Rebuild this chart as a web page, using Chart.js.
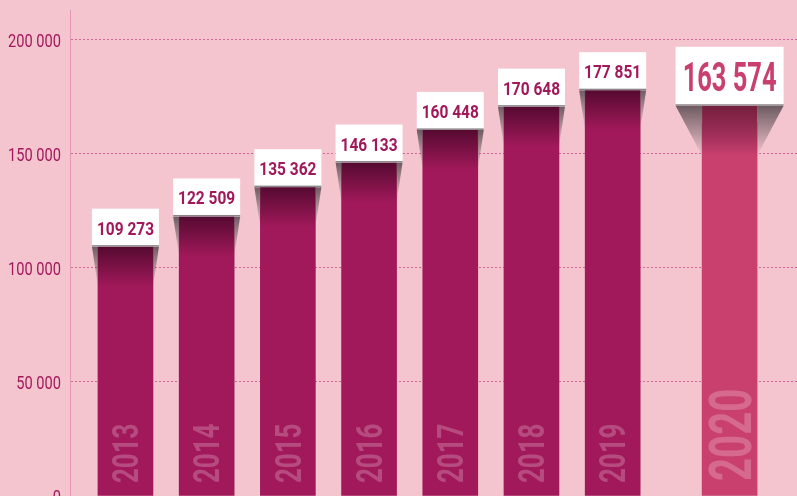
<!DOCTYPE html>
<html>
<head>
<meta charset="utf-8">
<script src="https://cdn.jsdelivr.net/npm/chart.js@4"></script>
<style>
  html, body { margin: 0; padding: 0; background: #f5c5cf; }
  #wrap { width: 797px; height: 496px; }
</style>
</head>
<body>
<div id="wrap"><canvas id="chart" width="797" height="496"></canvas></div>
<script>
// Données
const years = ['2013', '2014', '2015', '2016', '2017', '2018', '2019', '2020'];
const values = [109273, 122509, 135362, 146133, 160448, 170648, 177851, 163574];
const slots = [0, 1, 2, 3, 4, 5, 6, 7.44];
const yTicks = [0, 50000, 100000, 150000, 200000];

const FONT = 'Roboto, "DejaVu Sans", sans-serif';
const BAR = '#a1195a';
const BAR_LAST = '#c9406f';

function fmt(v) {
    return String(v).replace(/\B(?=(\d{3})+(?!\d))/g, ' ');
}

// texte condensé (pas de police étroite installée)
function condensedText(ctx, text, x, y, font, sx, align) {
    ctx.save();
    ctx.translate(x, y);
    ctx.scale(sx, 1);
    ctx.font = font;
    ctx.textAlign = align;
    ctx.textBaseline = 'alphabetic';
    ctx.fillText(text, 0, 0);
    ctx.restore();
}

// Libellés de l'axe Y dessinés en condensé
const yLabelsPlugin = {
    id: 'yLabels',
    afterDraw(chart) {
        const ctx = chart.ctx;
        const scale = chart.scales.y;
        ctx.save();
        ctx.fillStyle = BAR;
        yTicks.forEach(v => {
            const py = scale.getPixelForValue(v);
            condensedText(ctx, fmt(v), scale.right - 9, py + 7, '19px ' + FONT, 0.77, 'right');
        });
        ctx.restore();
    }
};

// Étiquettes, ombres et années dessinées au-dessus des barres
const decorPlugin = {
    id: 'decor',
    afterDatasetsDraw(chart) {
        const ctx = chart.ctx;
        const bars = chart.getDatasetMeta(0).data;
        bars.forEach((bar, i) => {
            const last = i === years.length - 1;
            const w = bar.width;
            const left = bar.x - w / 2;
            const right = bar.x + w / 2;
            const boxW = last ? w + 53 : w + 12;
            const boxH = last ? 59 : 38;
            const lift = last ? 17 : 0;
            const boxB = bar.y - lift;
            const boxL = bar.x - boxW / 2;
            const boxR = bar.x + boxW / 2;
            const shadowH = last ? 50 : 40;

            ctx.save();
            // prolongement de la barre jusqu'à l'étiquette
            ctx.fillStyle = last ? BAR_LAST : BAR;
            ctx.fillRect(left, boxB, w, bar.y - boxB + 1);

            // assombrissement du haut de la barre
            const g = ctx.createLinearGradient(0, boxB, 0, boxB + shadowH);
            g.addColorStop(0, last ? 'rgba(90,20,45,0.75)' : 'rgba(60,5,35,0.75)');
            g.addColorStop(1, 'rgba(60,5,35,0)');
            ctx.fillStyle = g;
            ctx.fillRect(left, boxB, w, shadowH);

            // ombres triangulaires
            const sg = ctx.createLinearGradient(0, boxB, 0, boxB + shadowH);
            sg.addColorStop(0, 'rgba(75,65,70,0.8)');
            sg.addColorStop(1, 'rgba(75,65,70,0)');
            ctx.fillStyle = sg;
            ctx.beginPath();
            ctx.moveTo(boxL, boxB);
            ctx.lineTo(left, boxB);
            ctx.lineTo(left, boxB + shadowH);
            ctx.closePath();
            ctx.fill();
            ctx.beginPath();
            ctx.moveTo(boxR, boxB);
            ctx.lineTo(right, boxB);
            ctx.lineTo(right, boxB + shadowH);
            ctx.closePath();
            ctx.fill();

            // boîte blanche
            ctx.fillStyle = '#ffffff';
            ctx.fillRect(boxL, boxB - boxH, boxW, boxH);
            ctx.fillStyle = 'rgba(110,100,105,0.8)';
            ctx.fillRect(boxL, boxB - 1.5, boxW, 1.5);

            // valeur
            ctx.fillStyle = last ? BAR_LAST : BAR;
            if (last) {
                condensedText(ctx, fmt(values[i]), bar.x, boxB - boxH / 2 + 15, 'bold 41px ' + FONT, 0.62, 'center');
            } else {
                condensedText(ctx, fmt(values[i]), bar.x, boxB - boxH / 2 + 7, 'bold 18px ' + FONT, 0.86, 'center');
            }
            ctx.restore();

            // année verticale
            ctx.save();
            const size = last ? 60 : 36;
            const capH = size * 0.71;
            ctx.translate(bar.x, last ? 481 : 483);
            ctx.rotate(-Math.PI / 2);
            ctx.scale(last ? 0.67 : 0.72, 1);
            ctx.font = 'bold ' + size + 'px ' + FONT;
            ctx.fillStyle = 'rgba(255,255,255,0.22)';
            ctx.textAlign = 'left';
            ctx.textBaseline = 'alphabetic';
            ctx.fillText(years[i], 0, capH / 2);
            ctx.restore();
        });
    }
};

const config = {
    type: 'bar',
    data: {
        datasets: [{
            data: values.map((v, i) => ({ x: slots[i], y: v })),
            backgroundColor: values.map((v, i) => i === values.length - 1 ? BAR_LAST : BAR),
            borderWidth: 0,
            barThickness: 55
        }]
    },
    options: {
        responsive: false,
        animation: false,
        layout: {
            padding: { top: 10, bottom: 0, left: 0, right: 0 }
        },
        plugins: {
            legend: { display: false },
            tooltip: { enabled: false }
        },
        scales: {
            x: {
                type: 'linear',
                display: false,
                offset: false,
                min: -0.683,
                max: 8.27
            },
            y: {
                min: 0,
                max: 213000,
                afterFit(scale) { scale.width = 70; },
                afterBuildTicks(scale) {
                    scale.ticks = yTicks.map(v => ({ value: v }));
                },
                ticks: { display: false },
                grid: {
                    drawTicks: false,
                    color: '#d4649a',
                    lineWidth: 1
                },
                border: {
                    display: true,
                    color: '#e396b5',
                    dash: [2, 2]
                }
            }
        }
    },
    plugins: [decorPlugin, yLabelsPlugin]
};

const chart = new Chart(document.getElementById('chart'), config);
</script>
</body>
</html>
